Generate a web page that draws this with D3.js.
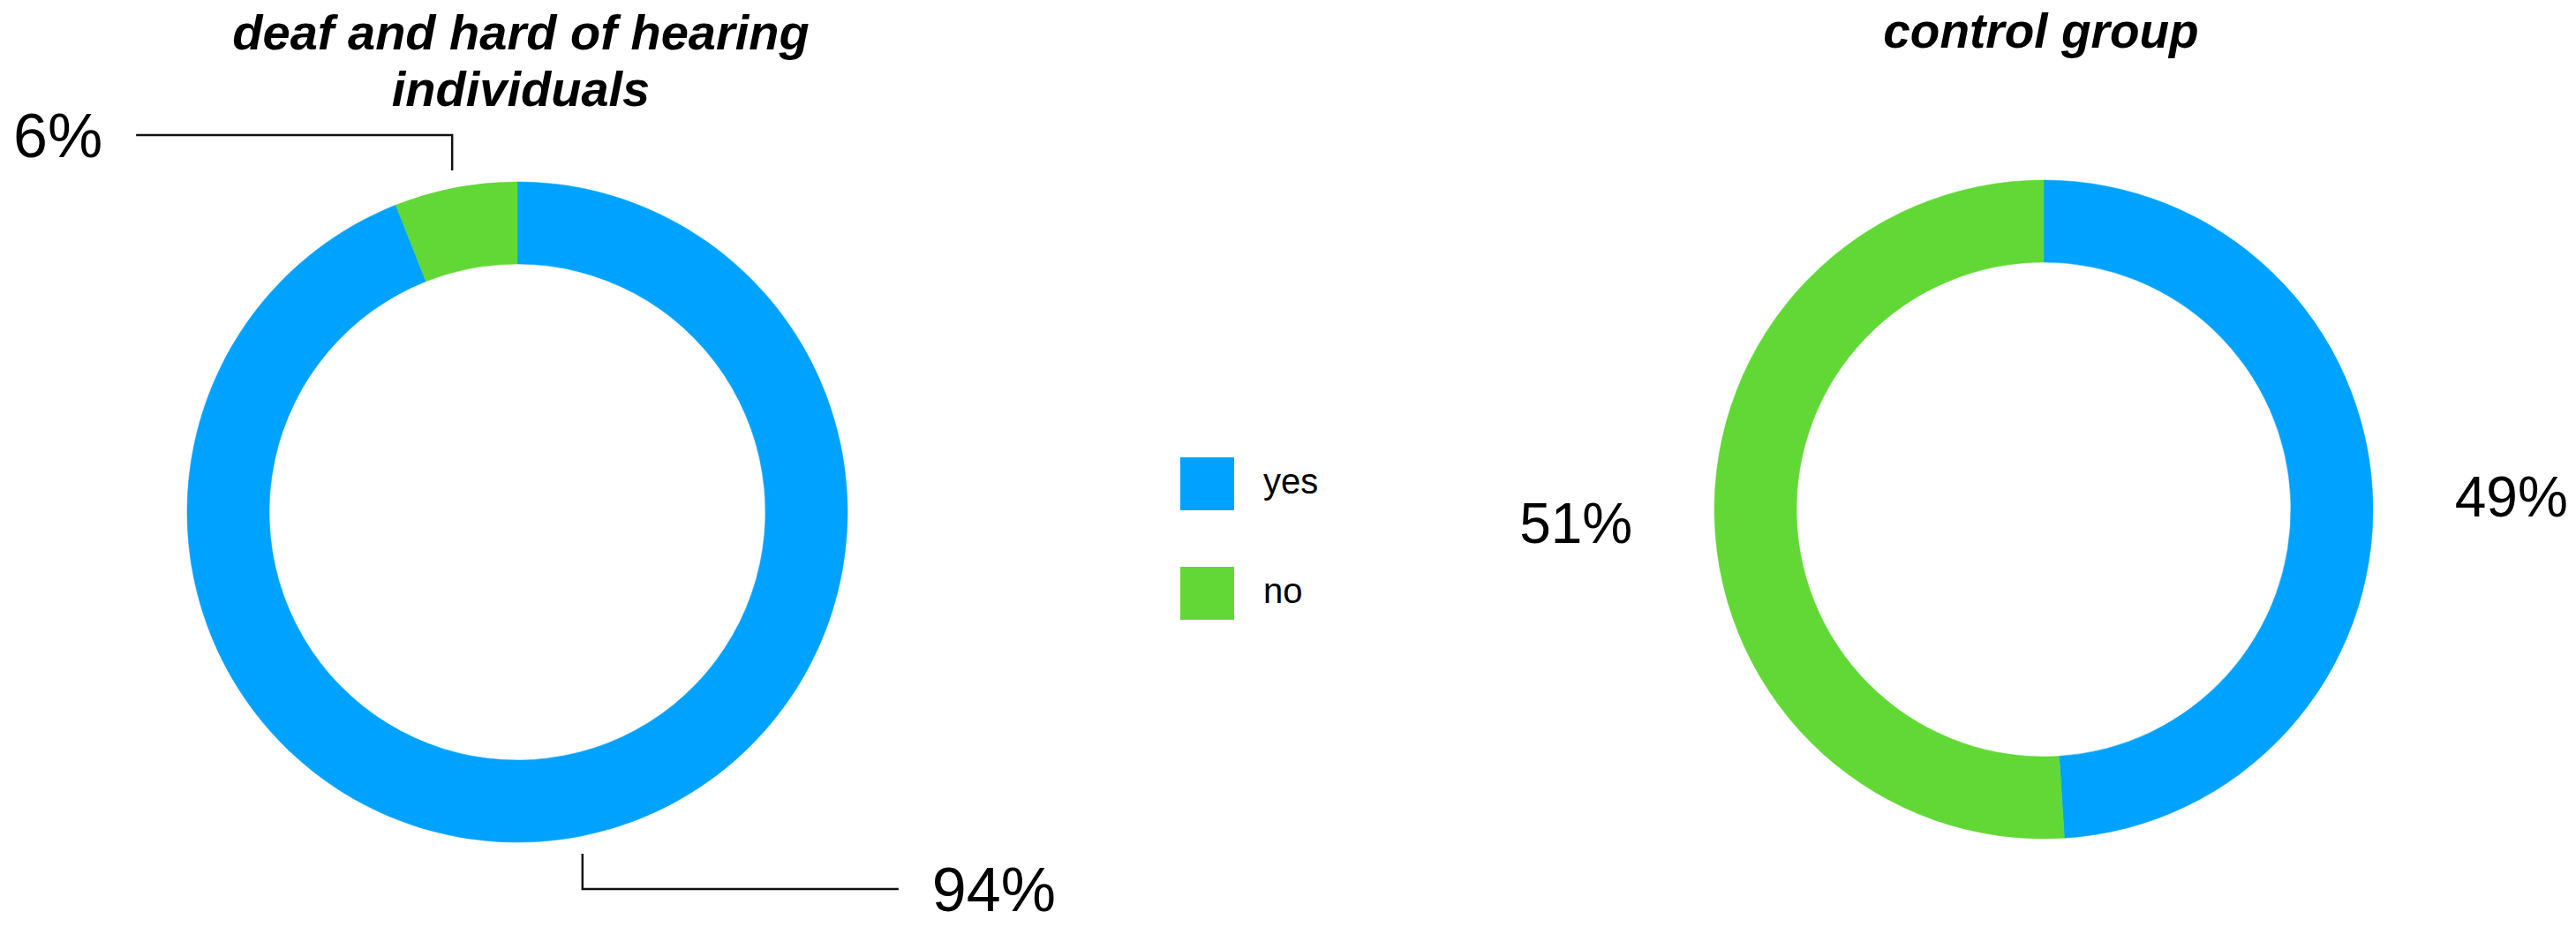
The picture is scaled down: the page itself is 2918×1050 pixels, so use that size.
<!DOCTYPE html>
<html lang="en">
  <head>
    <meta charset="utf-8">
    <script src="https://d3js.org/d3.v7.min.js"></script>
    <style>
      body { margin: 0; background: #fff; }
      svg { display: block; }
      text { font-family: "Liberation Sans", Arial, Helvetica, sans-serif; fill: #000; }
      .title { font-weight: bold; font-style: italic; }
    </style>
  </head>
<body>
  <div id="chart"></div>
  <script>
    // data
    var categories = ["yes", "no"];
    var deafValues = [94, 6];
    var controlValues = [49, 51];
    var deafTitle = ["deaf and hard of hearing", "individuals"];
    var controlTitle = ["control group"];

    // plot setup
    var width = 2918;
    var height = 1050;

    var color = d3.scaleOrdinal()
        .domain(categories)
        .range(["#00a2ff", "#61d836"]);

    var svg = d3.select("#chart")
        .append("svg")
        .attr("width", width)
        .attr("height", height);

    var pie = d3.pie().sort(null).value(function(d) { return d.value; });

    function toRows(values) {
      return categories.map(function(c, i) { return {cat: c, value: values[i]}; });
    }

    // draw one donut, returns the arcs so labels can be placed
    function donut(cx, cy, outer, inner, values) {
      var g = svg.append("g").attr("transform", "translate(" + cx + "," + cy + ")");
      var arc = d3.arc().innerRadius(inner).outerRadius(outer);
      var arcs = pie(toRows(values));
      g.selectAll("path")
        .data(arcs)
        .enter()
        .append("path")
        .attr("d", arc)
        .attr("fill", function(d) { return color(d.data.cat); })
        .attr("stroke", function(d) { return color(d.data.cat); })
        .attr("stroke-width", 0.5);
      return {g: g, arcs: arcs};
    }

    function midAngle(d) { return (d.startAngle + d.endAngle) / 2; }

    // left donut with elbow leaders
    var left = donut(586, 580, 374, 281, deafValues);
    var labelSize = 70;
    left.arcs.forEach(function(d) {
      var a = midAngle(d);
      var r = 374 + 20;
      var x0 = r * Math.sin(a);
      var y0 = -r * Math.cos(a);
      var up = y0 < 0 ? -1 : 1;
      var side = x0 < 0 ? -1 : 1;
      var y1 = y0 + up * 40;
      var x2 = x0 + side * 358;
      left.g.append("path")
        .attr("d", "M" + x0 + "," + y0 + "V" + y1 + "H" + x2)
        .attr("fill", "none")
        .attr("stroke", "#111")
        .attr("stroke-width", 2.5);
      left.g.append("text")
        .attr("x", x2 + side * 38)
        .attr("y", y1 + labelSize * 0.358)
        .attr("text-anchor", side < 0 ? "end" : "start")
        .style("font-size", labelSize + "px")
        .text(d.data.value + "%");
    });

    // right donut, labels beside the ring
    var right = donut(2315, 577, 373, 280, controlValues);
    var rightSize = 64;
    right.arcs.forEach(function(d) {
      var a = midAngle(d);
      var r = 466;
      var x = r * Math.sin(a);
      var y = -r * Math.cos(a);
      right.g.append("text")
        .attr("x", x)
        .attr("y", y + rightSize * 0.358)
        .attr("text-anchor", x < 0 ? "end" : "start")
        .style("font-size", rightSize + "px")
        .text(d.data.value + "%");
    });

    // titles
    svg.append("text")
      .attr("class", "title")
      .attr("text-anchor", "middle")
      .style("font-size", "56px")
      .selectAll("tspan")
      .data(deafTitle)
      .enter()
      .append("tspan")
      .attr("x", 590)
      .attr("y", function(d, i) { return 56 + i * 64; })
      .text(function(d) { return d; });

    svg.append("text")
      .attr("class", "title")
      .attr("text-anchor", "middle")
      .attr("x", 2312)
      .attr("y", 54)
      .style("font-size", "55px")
      .text(controlTitle[0]);

    // legend
    var legend = svg.append("g")
      .attr("transform", "translate(1337,518)")
      .selectAll("g")
      .data(categories)
      .enter()
      .append("g")
      .attr("transform", function(d, i) { return "translate(0," + i * 124 + ")"; });

    legend.append("rect")
      .attr("width", 61)
      .attr("height", 60)
      .attr("fill", function(d) { return color(d); });

    legend.append("text")
      .attr("x", 94)
      .attr("y", 41)
      .style("font-size", "40px")
      .text(function(d) { return d; });
  </script>
</body>
</html>
